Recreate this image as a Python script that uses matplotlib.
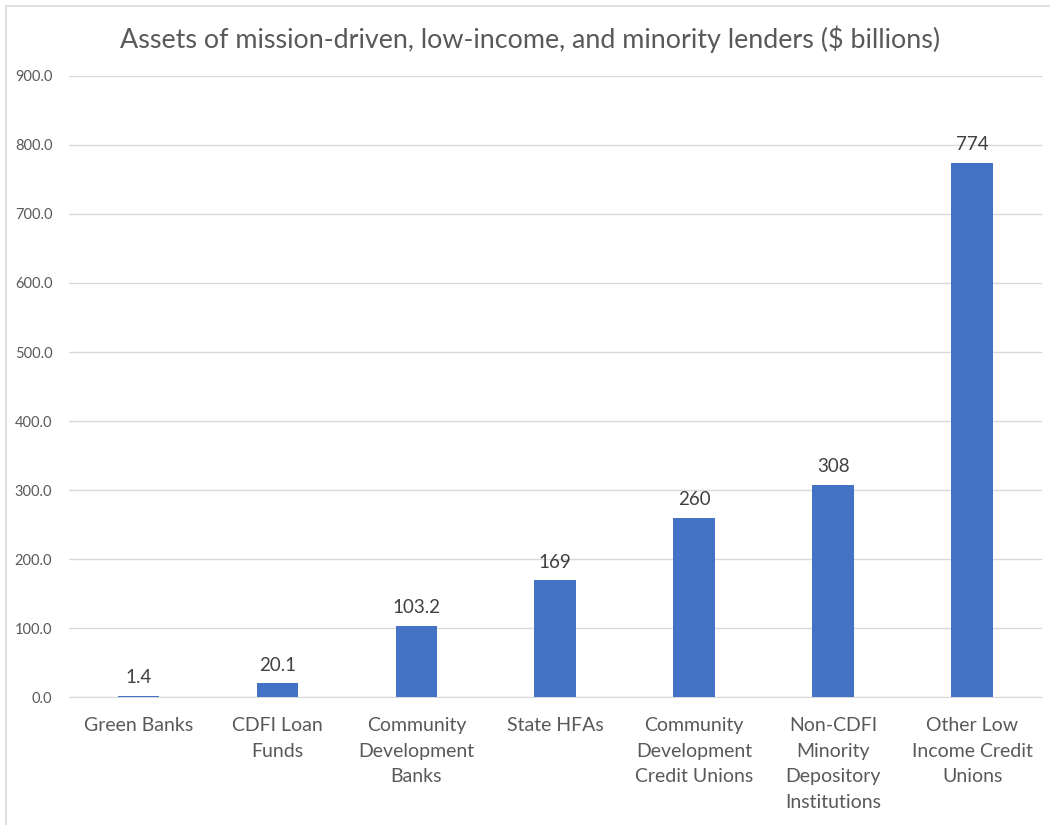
import matplotlib
matplotlib.use("Agg")
import matplotlib.pyplot as plt
from matplotlib.patches import Rectangle

categories = ["Green Banks", "CDFI Loan\nFunds", "Community\nDevelopment\nBanks", "State HFAs",
              "Community\nDevelopment\nCredit Unions", "Non-CDFI\nMinority\nDepository\nInstitutions",
              "Other Low\nIncome Credit\nUnions"]
values = [1.4, 20.1, 103.2, 169, 260, 308, 774]
labels = ["1.4", "20.1", "103.2", "169", "260", "308", "774"]
yticks = [0, 100, 200, 300, 400, 500, 600, 700, 800, 900]

plt.rcParams['font.family'] = ['Lato', 'DejaVu Sans']
txt = '#595959'

fig = plt.figure(figsize=(10.5, 8.25), dpi=100)
ax = fig.add_axes([0.0657, 0.155, 0.9263, 0.753])

x = list(range(len(categories)))
ax.bar(x, values, width=0.3, color='#4472C4', zorder=3)
for xi, v, l in zip(x, values, labels):
    ax.annotate(l, (xi, v), xytext=(0, 7), textcoords='offset points', ha='center', va='bottom',
                fontsize=13.5, color='#404040')

ax.set_xlim(-0.5, len(categories) - 0.5)
ax.set_ylim(0, 900)
ax.set_yticks(yticks)
ax.set_yticklabels([f"{t:.1f}" for t in yticks], fontsize=10.5, color=txt)
ax.set_xticks(x)
ax.set_xticklabels(categories, fontsize=14, color=txt, linespacing=1.64)
ax.tick_params(axis='both', length=0)
ax.tick_params(axis='y', pad=12)
ax.tick_params(axis='x', pad=14)
ax.grid(axis='y', color='#D9D9D9', linewidth=1, zorder=0)
for s in ['left', 'right', 'top']:
    ax.spines[s].set_visible(False)
ax.spines['bottom'].set_color('#D9D9D9')

fig.text(0.505, 0.952, "Assets of mission-driven, low-income, and minority lenders ($ billions)",
         ha='center', va='center', fontsize=19.4, color=txt)

fig.patches.append(Rectangle((6/1050, -0.1), 1.2, 1.1 - 6/825, transform=fig.transFigure,
                             fill=False, edgecolor='#D9D9D9', linewidth=1.2))

fig.savefig("out.png", dpi=100)
